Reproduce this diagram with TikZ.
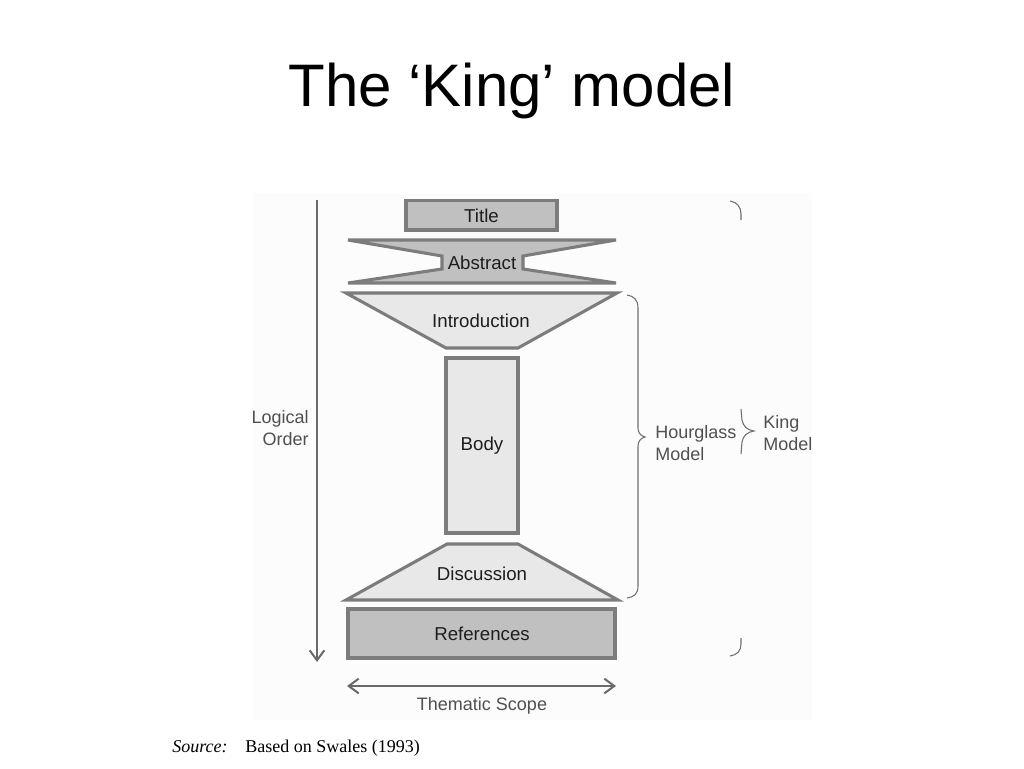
\documentclass[tikz,border=0pt]{standalone}
\usepackage{fontspec}
\setmainfont{Liberation Sans}
\newfontfamily\seriffont{Liberation Serif}
\usetikzlibrary{arrows.meta}
\definecolor{boxdark}{HTML}{C0C0C0}
\definecolor{boxlight}{HTML}{E8E8E8}
\definecolor{edgegray}{HTML}{7C7C7C}
\definecolor{arrowgray}{HTML}{6A6A6A}
\definecolor{labelgray}{HTML}{505050}
\definecolor{boxtext}{HTML}{1E1E1E}
\definecolor{bracegray}{HTML}{707070}
\definecolor{panel}{HTML}{FCFCFC}
\tikzset{
  shapeedge/.style={draw=edgegray, line width=2.3pt, line join=miter},
  boxlabel/.style={font=\fontsize{14}{16}\selectfont, text=boxtext, inner sep=0pt},
  outlabel/.style={font=\fontsize{13.5}{16}\selectfont, text=labelgray, inner sep=0pt},
  orderarrow/.style={draw=arrowgray, line width=1.5pt, -{Straight Barb[length=7.5pt,width=11pt,line width=1.5pt]}},
  scopearrow/.style={draw=arrowgray, line width=1.5pt, {Straight Barb[length=7.5pt,width=11pt,line width=1.5pt]}-{Straight Barb[length=7.5pt,width=11pt,line width=1.5pt]}},
  bracepath/.style={draw=bracegray, line width=0.8pt}
}
\begin{document}
\begin{tikzpicture}[x=0.75pt,y=-0.75pt]
\useasboundingbox (0,0) rectangle (1024,768);
\fill[white] (0,0) rectangle (1024,768);
\fill[panel] (253,193) rectangle (812,720);

% heading
\node[font=\fontsize{45}{50}\selectfont, inner sep=0pt] (heading) at (512,91) {The ‘King’ model};

% Title
\draw[shapeedge, fill=boxdark] (406,200.5) rectangle (557,230);
\node[boxlabel] (title) at (481.5,215.5) {Title};

% Abstract
\draw[shapeedge, fill=boxdark] (348,240) -- (616,240) -- (523,256) -- (523,269) -- (616,283) -- (348,283) -- (442,269) -- (442,256) -- cycle;
\node[boxlabel] (abstract) at (482,262.5) {Abstract};

% Introduction
\draw[shapeedge, fill=boxlight] (346,293) -- (617,293) -- (518,348) -- (446,348) -- cycle;
\node[boxlabel] (intro) at (481,321) {Introduction};

% Body
\draw[shapeedge, fill=boxlight] (446,358) rectangle (518,533);
\node[boxlabel] (body) at (482,446) {Body};

% Discussion
\draw[shapeedge, fill=boxlight] (447,544) -- (518,544) -- (618,600) -- (346,600) -- cycle;
\node[boxlabel] (disc) at (482,574) {Discussion};

% References
\draw[shapeedge, fill=boxdark] (348,609) rectangle (615,658);
\node[boxlabel] (refs) at (482,634) {References};

% Logical order arrow
\coordinate (lotop) at (317,200);
\coordinate (lobot) at (317,662);
\draw[orderarrow] (lotop) -- (lobot);
\node[outlabel, anchor=east, align=right] (logical) at (309,428) {Logical\\Order};

% Thematic scope arrow
\coordinate (tsl) at (347,686);
\coordinate (tsr) at (616,686);
\draw[scopearrow] (tsl) -- (tsr);
\node[outlabel] (thematic) at (482,706) {Thematic Scope};

% Hourglass brace
\draw[bracepath] (627,295) .. controls (634,296) and (638,300) .. (638,308)
  -- (638,428) .. controls (638,433) and (641,436) .. (645,437)
  .. controls (641,438) and (638,441) .. (638,446)
  -- (638,586) .. controls (638,594) and (634,597) .. (627,598);
\node[outlabel, anchor=west, align=left] (hourglass) at (655,443) {Hourglass\\Model};

% King brace (visible parts)
\draw[bracepath] (730,201) .. controls (737,202) and (741,207) .. (741,214) -- (741,220);
\draw[bracepath] (741,409) -- (742,420) .. controls (743,426) and (747,430) .. (754,431)
  .. controls (747,432) and (743,436) .. (742,442) -- (741,454);
\draw[bracepath] (741,638) -- (741,644) .. controls (741,651) and (737,655) .. (730,656);
\node[outlabel, anchor=west, align=left] (king) at (763,433) {King\\Model};

% Source
\node[font=\seriffont\itshape\fontsize{13.5}{16}\selectfont, anchor=base west, inner sep=0pt] (srclab) at (172,752) {Source:};
\node[font=\seriffont\fontsize{13.5}{16}\selectfont, anchor=base west, inner sep=0pt] (srctext) at (245,752) {Based on Swales (1993)};
\end{tikzpicture}
\end{document}
